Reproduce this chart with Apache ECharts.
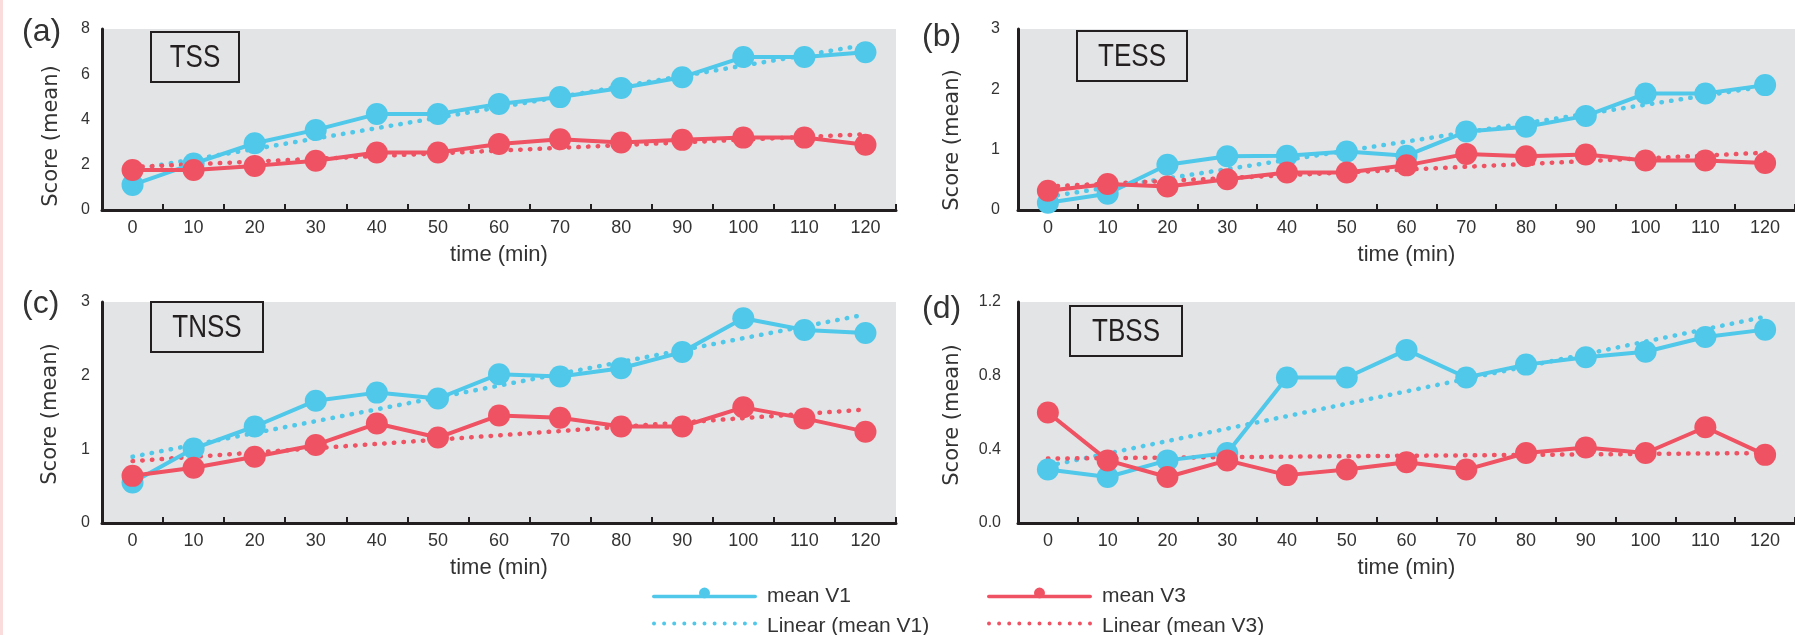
<!DOCTYPE html>
<html>
<head>
<meta charset="utf-8">
<script src="https://cdn.jsdelivr.net/npm/echarts@6/dist/echarts.min.js"></script>
<style>
  html, body { margin: 0; padding: 0; background: #fff; }
  #chart { width: 1795px; height: 635px; }
</style>
</head>
<body>
<div id="chart"></div>
<script>
// time points (min)
const times = ['0', '10', '20', '30', '40', '50', '60', '70', '80', '90', '100', '110', '120'];

// (a) TSS
const tssV1 = [1.11, 2.05, 2.95, 3.54, 4.24, 4.24, 4.69, 4.99, 5.39, 5.87, 6.76, 6.76, 6.97];
const tssV3 = [1.77, 1.77, 1.95, 2.18, 2.54, 2.54, 2.92, 3.13, 2.98, 3.1, 3.2, 3.2, 2.88];
const tssLinV1 = [1.78, 7.3];   // trend line value at 0 and at 120
const tssLinV3 = [1.9, 3.35];

// (b) TESS
const tessV1 = [0.12, 0.27, 0.75, 0.89, 0.9, 0.97, 0.9, 1.3, 1.38, 1.56, 1.93, 1.93, 2.07];
const tessV3 = [0.32, 0.43, 0.39, 0.51, 0.62, 0.62, 0.74, 0.93, 0.89, 0.92, 0.82, 0.82, 0.78];
const tessLinV1 = [0.22, 2.05];
const tessLinV3 = [0.39, 0.95];

// (c) TNSS
const tnssV1 = [0.55, 1.01, 1.31, 1.66, 1.77, 1.69, 2.02, 1.99, 2.1, 2.32, 2.78, 2.62, 2.58];
const tnssV3 = [0.64, 0.75, 0.9, 1.06, 1.35, 1.16, 1.46, 1.43, 1.31, 1.31, 1.57, 1.42, 1.24];
const tnssLinV1 = [0.9, 2.83];
const tnssLinV3 = [0.84, 1.54];

// (d) TBSS
const tbssV1 = [0.29, 0.25, 0.34, 0.38, 0.79, 0.79, 0.94, 0.79, 0.86, 0.9, 0.93, 1.01, 1.05];
const tbssV3 = [0.6, 0.34, 0.25, 0.34, 0.26, 0.29, 0.33, 0.29, 0.38, 0.41, 0.38, 0.52, 0.37];
const tbssLinV1 = [0.31, 1.12];
const tbssLinV3 = [0.35, 0.38];

const BLUE = '#4fc8ea';
const RED = '#ef5262';
const INK = '#231f20';
const TXT = '#333333';
const SANS = "'Liberation Sans', Arial, sans-serif";

const panels = [
  { tag: '(a)', name: 'TSS',  v1: tssV1,  v3: tssV3,  l1: tssLinV1,  l3: tssLinV3,  max: 8,   step: 2,
    grid: { left: 102, top: 29, width: 794, height: 181 }, box: [151, 32, 88], tagPos: [22, 35], ytitle: [52, 136], labelGap: 12 },
  { tag: '(b)', name: 'TESS', v1: tessV1, v3: tessV3, l1: tessLinV1, l3: tessLinV3, max: 3,   step: 1,
    grid: { left: 1018, top: 29, width: 799, height: 181 }, box: [1077, 31, 110], tagPos: [922, 40], ytitle: [953, 140], labelGap: 18 },
  { tag: '(c)', name: 'TNSS', v1: tnssV1, v3: tnssV3, l1: tnssLinV1, l3: tnssLinV3, max: 3,   step: 1,
    grid: { left: 102, top: 302, width: 794, height: 221 }, box: [151, 302, 112], tagPos: [22, 307], ytitle: [51, 414], labelGap: 12 },
  { tag: '(d)', name: 'TBSS', v1: tbssV1, v3: tbssV3, l1: tbssLinV1, l3: tbssLinV3, max: 1.2, step: 0.4,
    grid: { left: 1018, top: 302, width: 799, height: 221 }, box: [1070, 306, 112], tagPos: [922, 312], ytitle: [953, 415], labelGap: 17, decimals: 1 }
];

const dotted = [0.5, 9.2];

// legend icons (105 x 18 box): solid line with a dot, and a row of dots
const bound = 'M0,0 L0,0 Z M105,18 L105,18 Z ';
let dots = '';
for (let k = 0; k < 11; k++) {
  const cx = 2 + k * 10.1;
  dots += `M${cx - 2},6.5 A2,2 0 1,1 ${cx + 2},6.5 A2,2 0 1,1 ${cx - 2},6.5 Z `;
}
const iconMean = 'path://' + bound + 'M1.5,7.3 H103.5 A1.7,1.7 0 0,1 103.5,10.7 H1.5 A1.7,1.7 0 0,1 1.5,7.3 Z M47,5.5 A5.5,5.5 0 1,1 58,5.5 A5.5,5.5 0 1,1 47,5.5 Z';
const iconLinear = 'path://' + bound + dots;

const grid = [], xAxis = [], yAxis = [], series = [], graphic = [];

graphic.push({ type: 'rect', left: 0, top: 0, shape: { width: 3, height: 635 }, style: { fill: '#fbdcdc' }, silent: true });

panels.forEach((p, i) => {
  grid.push(Object.assign({ show: true, backgroundColor: '#e3e4e6', borderWidth: 0 }, p.grid));

  xAxis.push({
    type: 'category', gridIndex: i, data: times, boundaryGap: true,
    axisLine: { lineStyle: { color: INK, width: 3 } },
    axisTick: { show: true, inside: true, length: 6, interval: 0, lineStyle: { color: INK, width: 2 } },
    axisLabel: { interval: 0, margin: 9, fontSize: 18, color: TXT, fontFamily: SANS },
    name: 'time (min)', nameLocation: 'middle', nameGap: 34,
    nameTextStyle: { fontSize: 22, color: TXT, fontFamily: SANS }
  });

  yAxis.push({
    type: 'value', gridIndex: i, min: 0, max: p.max, interval: p.step,
    axisLine: { show: true, lineStyle: { color: INK, width: 3 } },
    axisTick: { show: false },
    splitLine: { show: false },
    axisLabel: {
      margin: p.labelGap, fontSize: 16, color: TXT, fontFamily: SANS,
      formatter: v => p.decimals ? v.toFixed(p.decimals) : String(v)
    }
  });

  // boxed panel name
  graphic.push({
    type: 'group', x: p.box[0], y: p.box[1], silent: true,
    children: [
      { type: 'rect', shape: { x: 0, y: 0, width: p.box[2], height: 50 }, style: { fill: 'none', stroke: INK, lineWidth: 2 } },
      { type: 'text', x: p.box[2] / 2, y: 26, scaleX: 0.84,
        style: { text: p.name, fontSize: 31, fill: INK, fontFamily: SANS, align: 'center', verticalAlign: 'middle' } }
    ]
  });

  graphic.push({
    type: 'text', left: p.tagPos[0], top: p.tagPos[1] - 19,
    style: { text: p.tag, fontSize: 32, fill: TXT, fontFamily: SANS }
  });
  graphic.push({
    type: 'text', x: p.ytitle[0], y: p.ytitle[1], rotation: Math.PI / 2,
    style: { text: 'Score (mean)', fontSize: 21, fill: TXT, fontFamily: "'DejaVu Sans', sans-serif", align: 'center', verticalAlign: 'middle' }
  });

  series.push(
    { name: 'Linear (mean V1)', type: 'line', xAxisIndex: i, yAxisIndex: i, symbol: 'none', silent: true, z: 2,
      data: [[times[0], p.l1[0]], [times[times.length - 1], p.l1[1]]],
      itemStyle: { color: BLUE }, lineStyle: { color: BLUE, width: 4.5, type: dotted, cap: 'round' } },
    { name: 'Linear (mean V3)', type: 'line', xAxisIndex: i, yAxisIndex: i, symbol: 'none', silent: true, z: 2,
      data: [[times[0], p.l3[0]], [times[times.length - 1], p.l3[1]]],
      itemStyle: { color: RED }, lineStyle: { color: RED, width: 4.5, type: dotted, cap: 'round' } },
    { name: 'mean V1', type: 'line', xAxisIndex: i, yAxisIndex: i, symbol: 'circle', symbolSize: 22, z: 3,
      data: p.v1, itemStyle: { color: BLUE }, lineStyle: { color: BLUE, width: 4 } },
    { name: 'mean V3', type: 'line', xAxisIndex: i, yAxisIndex: i, symbol: 'circle', symbolSize: 22, z: 4,
      data: p.v3, itemStyle: { color: RED }, lineStyle: { color: RED, width: 4 } }
  );
});

const legendItem = (name, icon, left, top) => ({
  data: [{ name: name, icon: icon }], left: left, top: top, orient: 'horizontal', padding: 0,
  itemWidth: 105, itemHeight: 18, selectedMode: false,
  textStyle: { fontSize: 21, lineHeight: 18, color: TXT, fontFamily: SANS, padding: [0, 0, 0, 5] }
});

const chart = echarts.init(document.getElementById('chart'));
chart.setOption({
  animation: false,
  backgroundColor: '#ffffff',
  grid: grid,
  xAxis: xAxis,
  yAxis: yAxis,
  legend: [
    legendItem('mean V1', iconMean, 652, 586),
    legendItem('mean V3', iconMean, 987, 586),
    legendItem('Linear (mean V1)', iconLinear, 652, 615.5),
    legendItem('Linear (mean V3)', iconLinear, 987, 615.5)
  ],
  graphic: graphic,
  series: series
});
</script>
</body>
</html>
